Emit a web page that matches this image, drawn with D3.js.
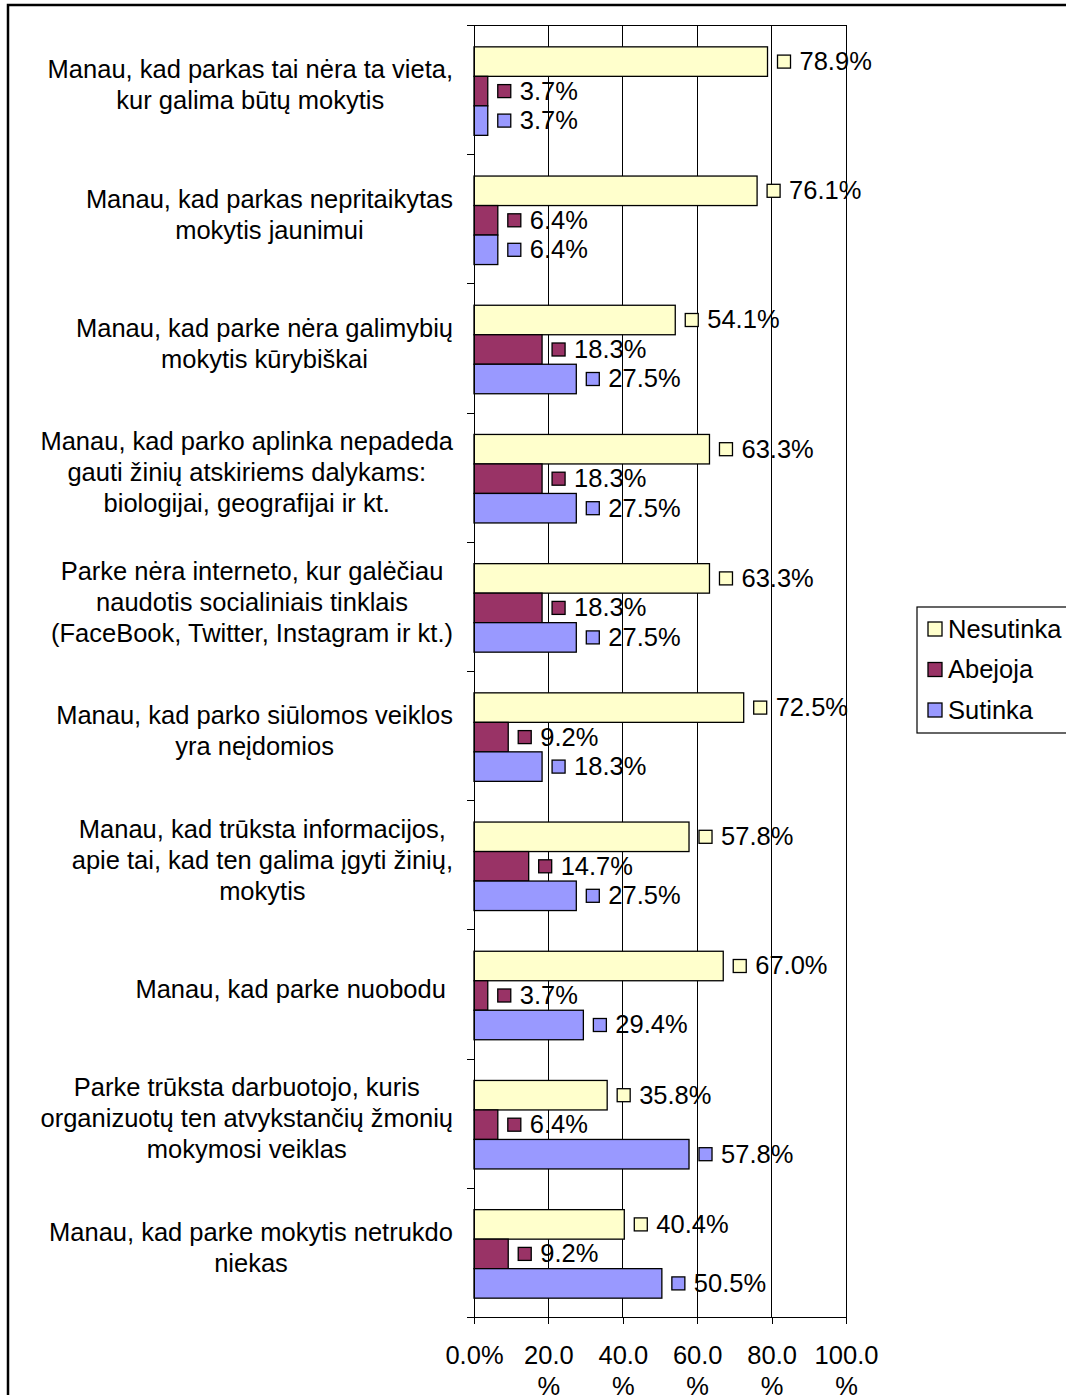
<!DOCTYPE html>
<html>
<head>
<meta charset="utf-8">
<script src="https://cdn.jsdelivr.net/npm/d3@7"></script>
<style>
  body { margin: 0; background: #fff; }
  text { font-family: "Liberation Sans", Arial, sans-serif; fill: #000; }
  .axis path, .axis line { stroke: #000; shape-rendering: crispEdges; }
  .grid line { stroke: #000; shape-rendering: crispEdges; }
</style>
</head>
<body>
<svg class="chart"></svg>
<script>
var categories = [
  ["Manau, kad parkas tai nėra ta vieta,", "kur galima būtų mokytis"],
  ["Manau, kad parkas nepritaikytas", "mokytis jaunimui"],
  ["Manau, kad parke nėra galimybių", "mokytis kūrybiškai"],
  ["Manau, kad parko aplinka nepadeda", "gauti žinių atskiriems dalykams:", "biologijai, geografijai ir kt."],
  ["Parke nėra interneto, kur galėčiau", "naudotis socialiniais tinklais", "(FaceBook, Twitter, Instagram ir kt.)"],
  ["Manau, kad parko siūlomos veiklos", "yra neįdomios"],
  ["Manau, kad trūksta informacijos,", "apie tai, kad ten galima įgyti žinių,", "mokytis"],
  ["Manau, kad parke nuobodu\u00a0"],
  ["Parke trūksta darbuotojo, kuris", "organizuotų ten atvykstančių žmonių", "mokymosi veiklas"],
  ["Manau, kad parke mokytis netrukdo", "niekas"]
];

var seriesNames = ["Nesutinka", "Abejoja", "Sutinka"];
var nesutinka = [78.9, 76.1, 54.1, 63.3, 63.3, 72.5, 57.8, 67.0, 35.8, 40.4];
var abejoja   = [3.7, 6.4, 18.3, 18.3, 18.3, 9.2, 14.7, 3.7, 6.4, 9.2];
var sutinka   = [3.7, 6.4, 27.5, 27.5, 27.5, 18.3, 27.5, 29.4, 57.8, 50.5];

var xTicks = [0, 20, 40, 60, 80, 100];
var xTickLabels = [["0.0%"], ["20.0", "%"], ["40.0", "%"], ["60.0", "%"], ["80.0", "%"], ["100.0", "%"]];

var colors = d3.scaleOrdinal()
    .domain(seriesNames)
    .range(["#ffffcc", "#993366", "#9999ff"]);

var W = 1066, H = 1395;
var plot = {left: 474, right: 846, top: 25, bottom: 1317};
var fontSize = 25.5, lineH = 31;

var svg = d3.select(".chart")
    .attr("width", W)
    .attr("height", H);

// outer chart border (runs off the right and bottom edge)
svg.append("rect")
    .attr("x", 8).attr("y", 5)
    .attr("width", 1100).attr("height", 1420)
    .attr("fill", "none")
    .attr("stroke", "#000")
    .attr("stroke-width", 2.5);

var x = d3.scaleLinear()
    .domain([0, 100])
    .range([plot.left, plot.right]);

var idx = d3.range(categories.length);

var y = d3.scaleBand()
    .domain(idx)
    .range([plot.top + 1.5, plot.bottom + 1.5])
    .paddingInner(0.315)
    .paddingOuter(0.1575);

var ySub = d3.scaleBand()
    .domain(seriesNames)
    .range([0, y.bandwidth()]);

var yEdge = d3.scaleLinear()
    .domain([0, categories.length])
    .range([plot.top, plot.bottom]);

// gridlines
svg.append("g")
    .attr("class", "grid")
    .selectAll("line")
    .data(xTicks.slice(1))
  .enter().append("line")
    .attr("x1", function(d) { return x(d); })
    .attr("x2", function(d) { return x(d); })
    .attr("y1", plot.top)
    .attr("y2", plot.bottom);

svg.append("line")
    .attr("x1", plot.left).attr("x2", plot.right)
    .attr("y1", plot.top).attr("y2", plot.top)
    .attr("stroke", "#000")
    .attr("shape-rendering", "crispEdges");

// bars
var rows = idx.map(function(i) {
  return {i: i, values: [
    {s: "Nesutinka", v: nesutinka[i]},
    {s: "Abejoja", v: abejoja[i]},
    {s: "Sutinka", v: sutinka[i]}
  ]};
});

var group = svg.selectAll("g.row")
    .data(rows)
  .enter().append("g")
    .attr("class", "row")
    .attr("transform", function(d) { return "translate(0," + y(d.i) + ")"; });

var bar = group.selectAll("g.bar")
    .data(function(d) { return d.values; })
  .enter().append("g")
    .attr("class", "bar");

bar.append("rect")
    .attr("x", x(0))
    .attr("y", function(d) { return ySub(d.s); })
    .attr("width", function(d) { return x(d.v) - x(0); })
    .attr("height", ySub.bandwidth())
    .attr("fill", function(d) { return colors(d.s); })
    .attr("stroke", "#000")
    .attr("stroke-width", 1.3);

bar.append("rect")
    .attr("x", function(d) { return x(d.v) + 10; })
    .attr("y", function(d) { return ySub(d.s) + ySub.bandwidth() / 2 - 6.5; })
    .attr("width", 13)
    .attr("height", 13)
    .attr("fill", function(d) { return colors(d.s); })
    .attr("stroke", "#000")
    .attr("stroke-width", 1.3);

bar.append("text")
    .attr("x", function(d) { return x(d.v) + 32; })
    .attr("y", function(d) { return ySub(d.s) + ySub.bandwidth() / 2 + 8.5; })
    .style("font-size", fontSize + "px")
    .text(function(d) { return d.v.toFixed(1) + "%"; });

// y axis: ticks between categories
svg.append("g")
    .attr("class", "axis")
    .attr("transform", "translate(" + plot.left + ",0)")
    .call(d3.axisLeft(yEdge)
        .tickValues(d3.range(categories.length + 1))
        .tickSize(7)
        .tickSizeOuter(0)
        .tickFormat(""));

// category labels: lines centred in a block that is right aligned
var labelRight = 453;
var cat = svg.selectAll("g.cat")
    .data(categories)
  .enter().append("g")
    .attr("class", "cat");

cat.each(function(lines, i) {
  var g = d3.select(this);
  var cy = y(i) + y.bandwidth() / 2 - 6;
  var t = g.selectAll("text")
      .data(lines)
    .enter().append("text")
      .style("font-size", fontSize + "px")
      .attr("text-anchor", "middle")
      .attr("y", function(d, k) { return cy + (k - (lines.length - 1) / 2) * lineH + 8.7; })
      .text(function(d) { return d; });
  var maxW = d3.max(t.nodes(), function(n) { return n.getComputedTextLength(); });
  t.attr("x", labelRight - maxW / 2);
});

// x axis
var xAxis = svg.append("g")
    .attr("class", "axis")
    .attr("transform", "translate(0," + plot.bottom + ")")
    .call(d3.axisBottom(x)
        .tickValues(xTicks)
        .tickSize(7)
        .tickSizeOuter(0)
        .tickFormat(""));

xAxis.selectAll(".tick")
  .append("text")
    .style("font-size", fontSize + "px")
    .attr("text-anchor", "middle")
    .each(function(d, i) {
      d3.select(this).selectAll("tspan")
          .data(xTickLabels[i])
        .enter().append("tspan")
          .attr("x", 0)
          .attr("y", function(s, k) { return 47 + k * lineH; })
          .text(function(s) { return s; });
    });

// legend
var legend = svg.append("g")
    .attr("transform", "translate(917,607)");

legend.append("rect")
    .attr("width", 200)
    .attr("height", 126)
    .attr("fill", "#fff")
    .attr("stroke", "#000")
    .attr("stroke-width", 1.2);

var item = legend.selectAll("g.item")
    .data(seriesNames)
  .enter().append("g")
    .attr("class", "item")
    .attr("transform", function(d, i) { return "translate(0," + (22 + i * 40.5) + ")"; });

item.append("rect")
    .attr("x", 11)
    .attr("y", -7)
    .attr("width", 14)
    .attr("height", 14)
    .attr("fill", function(d) { return colors(d); })
    .attr("stroke", "#000")
    .attr("stroke-width", 1.3);

item.append("text")
    .attr("x", 31)
    .attr("y", 8.5)
    .style("font-size", fontSize + "px")
    .text(function(d) { return d; });
</script>
</body>
</html>
